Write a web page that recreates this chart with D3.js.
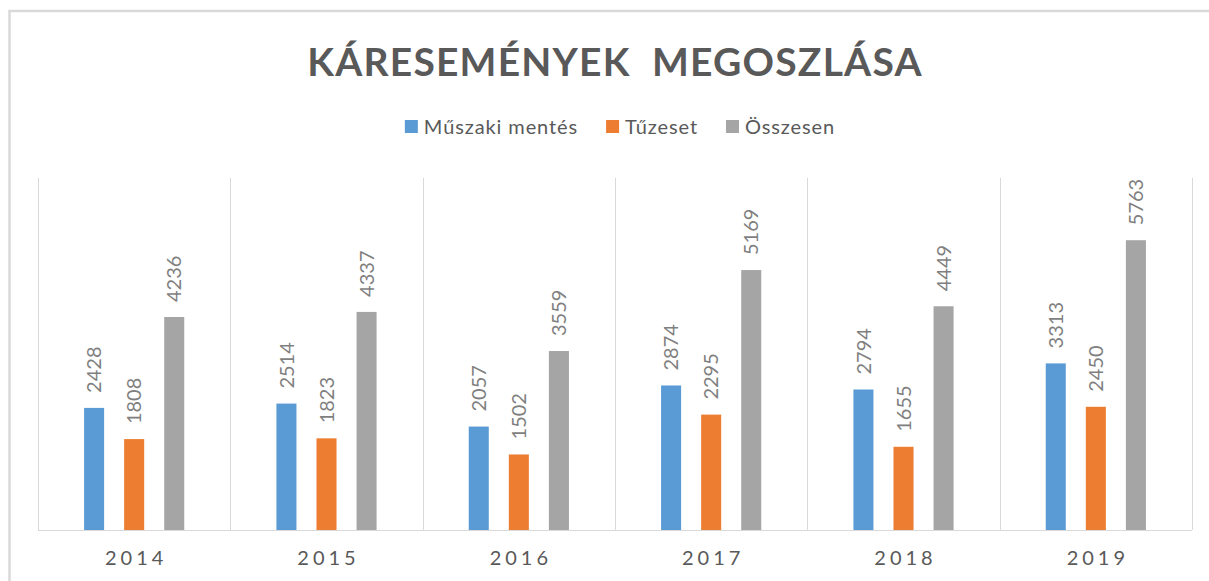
<!DOCTYPE html>
<html>
<head>
<meta charset="utf-8">
<script src="https://cdn.jsdelivr.net/npm/d3@7"></script>
<style>
    body { margin: 0; background: #fff; }
    svg { display: block; }
    .chart_text { font-family: Lato, "Open Sans", sans-serif; fill: #595959; }
    .grid_line { stroke: #d9d9d9; stroke-width: 1; }
</style>
</head>
<body>
<svg id="chart" width="1209" height="581"></svg>
<script>
// data
const years = ['2014', '2015', '2016', '2017', '2018', '2019'];
const series = ['Műszaki mentés', 'Tűzeset', 'Összesen'];
const muszaki = [2428, 2514, 2057, 2874, 2794, 3313];
const tuzeset = [1808, 1823, 1502, 2295, 1655, 2450];
const osszesen = [4236, 4337, 3559, 5169, 4449, 5763];
const colors = ['#5b9bd5', '#ed7d31', '#a5a5a5'];

const values = [muszaki, tuzeset, osszesen];

let svg = d3.select('#chart');
let width = 1209, height = 581;

// plot area
let plot_left = 38, plot_right = 1192, plot_top = 178, plot_bottom = 530;

//outer frame (only the top and left edge are visible)
svg.append('rect')
    .attr('x', 9.5)
    .attr('y', 11)
    .attr('width', width + 20)
    .attr('height', height + 20)
    .attr('fill', 'none')
    .attr('stroke', '#d9d9d9')
    .attr('stroke-width', 2.5);

let x = d3.scaleBand().domain(years).range([plot_left, plot_right]);
let xs = d3.scaleBand().domain(series).range([0, x.bandwidth()])
    .paddingInner(0.5).paddingOuter(1.15);
let y = d3.scaleLinear().domain([0, 7000]).range([plot_bottom, plot_top]);

// vertical grid lines between the categories
let bounds = years.map((d) => x(d)).concat([plot_right]);
svg.append('g').selectAll('line')
    .data(bounds)
    .enter()
    .append('line')
    .attr('class', 'grid_line')
    .attr('x1', (d) => Math.round(d) + 0.5)
    .attr('x2', (d) => Math.round(d) + 0.5)
    .attr('y1', plot_top)
    .attr('y2', plot_bottom);

// bars
let rows = [];
years.forEach((yr, i) => {
    series.forEach((s, j) => {
        rows.push({ year: yr, s: s, j: j, v: values[j][i] });
    });
});

svg.append('g').selectAll('rect')
    .data(rows)
    .enter()
    .append('rect')
    .attr('x', (d) => x(d.year) + xs(d.s))
    .attr('y', (d) => y(d.v))
    .attr('width', xs.bandwidth())
    .attr('height', (d) => y(0) - y(d.v))
    .attr('fill', (d) => colors[d.j]);

// baseline
svg.append('line')
    .attr('class', 'grid_line')
    .attr('x1', plot_left)
    .attr('x2', plot_right)
    .attr('y1', plot_bottom + 0.5)
    .attr('y2', plot_bottom + 0.5);

// value labels, rotated
svg.append('g').selectAll('text')
    .data(rows)
    .enter()
    .append('text')
    .attr('class', 'chart_text')
    .attr('transform', (d) => {
        let cx = x(d.year) + xs(d.s) + xs.bandwidth() / 2;
        return 'translate(' + cx + ',' + (y(d.v) - 15) + ') rotate(-90)';
    })
    .attr('dy', '0.36em')
    .attr('text-anchor', 'start')
    .style('font-size', '20px')
    .style('fill', '#7f7f7f')
    .text((d) => d.v);

// category axis labels
svg.append('g').selectAll('text')
    .data(years)
    .enter()
    .append('text')
    .attr('class', 'chart_text')
    .attr('x', (d) => x(d) + x.bandwidth() / 2 + 2)
    .attr('y', 565)
    .attr('text-anchor', 'middle')
    .style('font-size', '20px')
    .style('letter-spacing', '4px')
    .text((d) => d);

// title
svg.append('text')
    .attr('class', 'chart_text')
    .attr('x', 615)
    .attr('y', 76)
    .attr('text-anchor', 'middle')
    .attr('xml:space', 'preserve')
    .style('font-size', '39px')
    .style('font-weight', 'bold')
    .style('letter-spacing', '1.2px')
    .style('white-space', 'pre')
    .text('KÁRESEMÉNYEK  MEGOSZLÁSA');

// legend
let legend = svg.append('g');
let lx = 0;
series.forEach((s, j) => {
    let g = legend.append('g').attr('transform', 'translate(' + lx + ',0)');
    g.append('rect')
        .attr('x', 0)
        .attr('y', -7)
        .attr('width', 13)
        .attr('height', 13)
        .attr('fill', colors[j]);
    let t = g.append('text')
        .attr('class', 'chart_text')
        .attr('x', 19)
        .attr('y', 0)
        .attr('dy', '0.35em')
        .style('font-size', '20px')
        .style('letter-spacing', '0.9px')
        .text(s);
    lx += 19 + t.node().getComputedTextLength() + 28;
});
let legend_w = lx - 28;
legend.attr('transform', 'translate(' + (620 - legend_w / 2) + ',127)');
</script>
</body>
</html>
